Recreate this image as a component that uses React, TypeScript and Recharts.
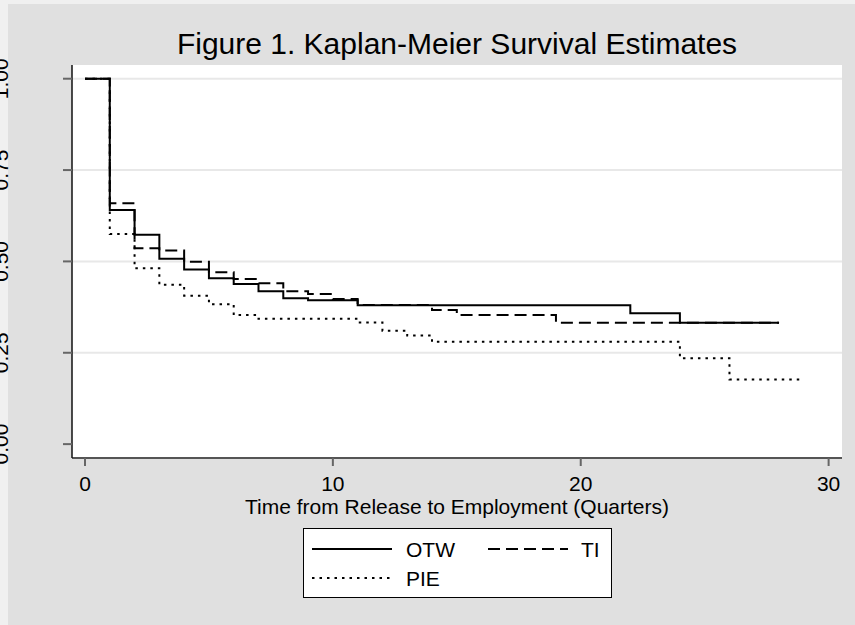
import { LineChart, Line, XAxis, YAxis, CartesianGrid, Legend, Customized } from "recharts";

// Kaplan-Meier step points (time in quarters, survival proportion)
const otwTimes = [0, 1, 2, 3, 4, 5, 6, 7, 8, 9, 11, 22, 24, 28];
const otwSurv = [1, 0.641, 0.573, 0.507, 0.478, 0.454, 0.438, 0.418, 0.399, 0.394, 0.38, 0.358, 0.332, 0.332];

const tiTimes = [0, 1, 2, 3, 4, 5, 6, 7, 8, 9, 10, 11, 14, 15, 19, 28];
const tiSurv = [1, 0.659, 0.536, 0.53, 0.499, 0.47, 0.452, 0.44, 0.418, 0.411, 0.397, 0.381, 0.367, 0.353, 0.332, 0.332];

const pieTimes = [0, 1, 2, 3, 4, 5, 6, 7, 11, 12, 13, 14, 24, 26, 29];
const pieSurv = [1, 0.575, 0.481, 0.436, 0.406, 0.383, 0.353, 0.343, 0.333, 0.31, 0.297, 0.28, 0.235, 0.177, 0.177];

const xTicks = [0, 10, 20, 30];
const yTicks = [0, 0.25, 0.5, 0.75, 1];
const gridValues = [0.25, 0.5, 0.75, 1];

const FONT = "'Liberation Sans', Arial, sans-serif";

const toRows = (times: number[], surv: number[]) => times.map((t, i) => ({ t, s: surv[i] }));

const series = [
  { name: "OTW", data: toRows(otwTimes, otwSurv), dash: undefined as string | undefined },
  { name: "TI", data: toRows(tiTimes, tiSurv), dash: "12 6" },
  { name: "PIE", data: toRows(pieTimes, pieSurv), dash: "2.5 5" },
];

function YTick(props: any) {
  const { y, payload } = props;
  return (
    <text
      transform={`translate(8, ${y}) rotate(-90)`}
      textAnchor="middle"
      fontSize={21}
      fontFamily={FONT}
      fill="#000"
    >
      {Number(payload.value).toFixed(2)}
    </text>
  );
}

function KmLegend(props: any) {
  const names = series.map((s) => s.name);
  const items: any[] = [...(props.payload || [])].sort(
    (a, b) => names.indexOf(a.value) - names.indexOf(b.value)
  );
  return (
    <div
      style={{
        boxSizing: "border-box",
        width: 309,
        height: 70,
        border: "1px solid #000",
        background: "#fff",
      }}
    >
      <svg width={307} height={68} style={{ display: "block" }}>
        {items.map((it, i) => {
          const s = series.find((d) => d.name === it.value);
          const col = i % 2;
          const row = Math.floor(i / 2);
          const x0 = 8 + col * 176;
          const cy = 20 + row * 29;
          return (
            <g key={it.value}>
              <line x1={x0} x2={x0 + 80} y1={cy} y2={cy} stroke="#000" strokeWidth={2} strokeDasharray={s?.dash} />
              <text x={x0 + (col ? 93 : 94)} y={cy + 7.5} fontSize={21} fontFamily={FONT} fill="#000">
                {it.value}
              </text>
            </g>
          );
        })}
      </svg>
    </div>
  );
}

export default function App() {
  return (
    <div style={{ position: "absolute", left: 0, top: 0, width: 855, height: 625, background: "#f0f0f0" }}>
      <div style={{ position: "absolute", left: 8, top: 4, right: 0, bottom: 0, background: "#e0e0e0" }} />
      <div style={{ position: "absolute", left: 0, top: 0 }}>
        <LineChart width={855} height={625} margin={{ top: 65, right: 13, bottom: 107, left: 12 }}>
          <CartesianGrid
            fill="#fff"
            vertical={false}
            horizontalValues={gridValues}
            stroke="#e8e8e8"
            strokeWidth={2}
          />
          <XAxis
            dataKey="t"
            type="number"
            domain={[-0.524, 30.54]}
            allowDataOverflow
            ticks={xTicks}
            tickSize={8}
            tickMargin={10}
            height={60}
            axisLine={{ stroke: "#555", strokeWidth: 2 }}
            tickLine={{ stroke: "#666", strokeWidth: 2 }}
            tick={{ fontSize: 21, fill: "#000", fontFamily: FONT }}
            label={{
              value: "Time from Release to Employment (Quarters)",
              position: "insideBottom",
              offset: 4,
              fontSize: 21,
              fill: "#000",
              fontFamily: FONT,
            }}
            allowDuplicatedCategory={false}
          />
          <YAxis
            type="number"
            domain={[-0.038, 1.0375]}
            allowDataOverflow
            ticks={yTicks}
            tickSize={9}
            width={60}
            axisLine={{ stroke: "#111", strokeWidth: 1.5 }}
            tickLine={{ stroke: "#666", strokeWidth: 2 }}
            tick={<YTick />}
          />
          {series.map((s) => (
            <Line
              key={s.name}
              name={s.name}
              data={s.data}
              dataKey="s"
              type="stepAfter"
              stroke="#000"
              strokeWidth={2}
              strokeDasharray={s.dash}
              dot={false}
              activeDot={false}
              isAnimationActive={false}
            />
          ))}
          <Legend
            layout="vertical"
            align="center"
            verticalAlign="middle"
            content={<KmLegend />}
            wrapperStyle={{ left: 303, top: 528, width: 309, height: 70, margin: 0 }}
          />
          <Customized
            component={() => (
              <text x={457} y={54} textAnchor="middle" fontSize={30} fontFamily={FONT} fill="#000">
                Figure 1. Kaplan-Meier Survival Estimates
              </text>
            )}
          />
        </LineChart>
      </div>
    </div>
  );
}
